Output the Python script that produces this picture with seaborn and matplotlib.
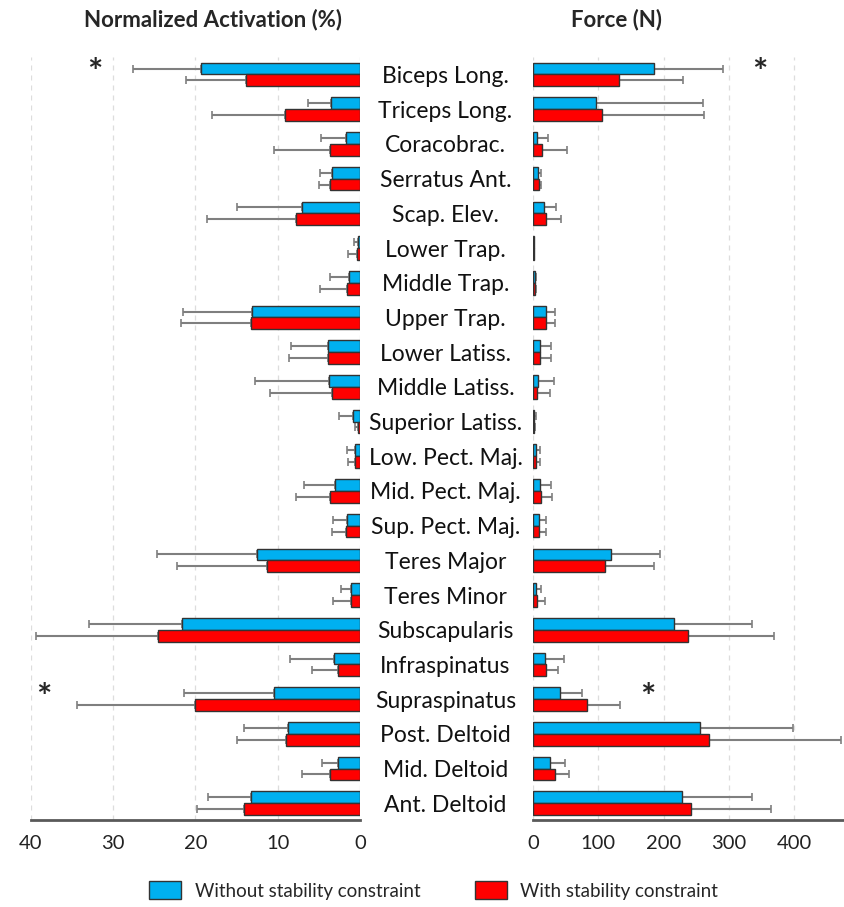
import pandas as pd
import matplotlib.pyplot as plt
import seaborn as sns

# Data
muscles = ["Biceps Long.", "Triceps Long.", "Coracobrac.", "Serratus Ant.",
           "Scap. Elev.", "Lower Trap.", "Middle Trap.", "Upper Trap.",
           "Lower Latiss.", "Middle Latiss.", "Superior Latiss.",
           "Low. Pect. Maj.", "Mid. Pect. Maj.", "Sup. Pect. Maj.",
           "Teres Major", "Teres Minor", "Subscapularis", "Infraspinatus",
           "Supraspinatus", "Post. Deltoid", "Mid. Deltoid", "Ant. Deltoid"]
conditions = ["Without stability constraint", "With stability constraint"]

act_without = [19.3, 3.5, 1.7, 3.4, 7.0, 0.3, 1.3, 13.1, 3.9, 3.8, 0.8,
               0.65, 3.0, 1.6, 12.5, 1.05, 21.6, 3.1, 10.4, 8.8, 2.7, 13.3]
act_without_sd = [8.3, 2.8, 3.0, 1.4, 8.0, 0.4, 2.4, 8.4, 4.5, 9.0, 1.8,
                  0.95, 3.8, 1.7, 12.2, 1.25, 11.4, 5.4, 11.0, 5.3, 1.9, 5.2]
act_with = [13.8, 9.1, 3.7, 3.6, 7.8, 0.4, 1.6, 13.3, 3.9, 3.4, 0.3,
            0.65, 3.6, 1.7, 11.3, 1.1, 24.5, 2.7, 20.1, 9.0, 3.7, 14.1]
act_with_sd = [7.3, 8.9, 6.8, 1.4, 10.8, 1.0, 3.3, 8.5, 4.7, 7.6, 0.3,
               0.75, 4.2, 1.7, 10.9, 2.2, 14.9, 3.15, 14.3, 6.0, 3.3, 5.7]

force_without = [185, 97, 6.6, 8.2, 17.4, 1.0, 2.5, 19.9, 10.7, 7.7, 1.5,
                 5.1, 10.7, 9.7, 119, 5.0, 216, 18.9, 40.9, 256.6, 26, 228]
force_without_sd = [106, 163, 17, 3.6, 18, 0.5, 2.5, 13.8, 17, 24, 2.5,
                    5.1, 17, 10.2, 76, 7.8, 120, 28, 33.7, 141, 23.6, 108]
force_with = [132, 106, 14.3, 8.7, 19.4, 1.0, 3.0, 19.9, 10.7, 6.6, 1.0,
              4.6, 12.3, 9.7, 111, 6.0, 238, 19.9, 82.8, 269.4, 33.7, 242.8]
force_with_sd = [98, 156, 37, 3.1, 23.5, 0.5, 2.0, 13.8, 17, 19, 1.5,
                 5.6, 16.8, 10.2, 75, 13, 131, 18, 50, 202, 21.5, 122]

# significance markers: muscle, x on activation axis, x on force axis
star_muscles = ["Biceps Long.", "Supraspinatus"]
star_act_x = [32.3, 38.4]
star_force_x = [348, 176]

df = pd.DataFrame({
    "Muscle": muscles * 2,
    "Condition": [conditions[0]] * len(muscles) + [conditions[1]] * len(muscles),
    "Activation": act_without + act_with,
    "ActSD": act_without_sd + act_with_sd,
    "Force": force_without + force_with,
    "ForceSD": force_without_sd + force_with_sd,
})

sns.set_style("white")
plt.rcParams["font.family"] = ["Lato", "DejaVu Sans"]
palette = {conditions[0]: "#00B0F0", conditions[1]: "#FF0000"}

fig = plt.figure(figsize=(8.45, 9.07), dpi=100)
ax1 = fig.add_axes([0.0367, 0.096, 0.3893, 0.841])
ax2 = fig.add_axes([0.6308, 0.096, 0.3692, 0.841])


def draw_panel(ax, col, sd_col):
    sns.barplot(data=df, y="Muscle", x=col, hue="Condition", order=muscles,
                hue_order=conditions, palette=palette, saturation=1,
                orient="h", width=0.68, edgecolor="#333333", linewidth=1.0,
                errorbar=None, ax=ax, legend=False, zorder=3)
    # one-sided error bars
    for cont, cond in zip(ax.containers, conditions):
        sd = df[df["Condition"] == cond].set_index("Muscle").loc[muscles, sd_col]
        for bar, s in zip(cont.patches, sd):
            y = bar.get_y() + bar.get_height() / 2
            ax.errorbar(bar.get_width(), y, xerr=[[0], [s]], fmt="none",
                        ecolor="#7f7f7f", elinewidth=1.5, capsize=3,
                        capthick=1.2, zorder=2)
    ax.set_ylim(len(muscles) - 0.52, -0.5)
    ax.set_xlabel("")
    ax.set_ylabel("")
    sns.despine(ax=ax, left=True, right=True, top=True)
    ax.spines["bottom"].set_color("#595959")
    ax.spines["bottom"].set_linewidth(2)
    ax.grid(axis="x", linestyle=(0, (4, 4)), color="#dddddd", linewidth=0.9, zorder=0)
    ax.set_axisbelow(True)
    ax.tick_params(axis="x", length=0, pad=11, labelsize=14.5, labelcolor="#222222")
    ax.tick_params(axis="y", length=0)


draw_panel(ax1, "Activation", "ActSD")
ax1.set_xlim(40, 0)
ax1.set_xticks([40, 30, 20, 10, 0])
ax1.set_yticklabels([])

draw_panel(ax2, "Force", "ForceSD")
ax2.set_xlim(0, 478)
ax2.set_xticks([0, 100, 200, 300, 400])
ax2.tick_params(axis="y", pad=63, labelsize=16.5, labelcolor="#111111")
for lab in ax2.get_yticklabels():
    lab.set_ha("center")

for m, xa, xf in zip(star_muscles, star_act_x, star_force_x):
    yi = muscles.index(m) - 0.02
    ax1.text(xa, yi, "*", ha="center", va="center", fontsize=26, fontweight="bold")
    ax2.text(xf, yi, "*", ha="center", va="center", fontsize=26, fontweight="bold")

fig.text(0.252, 0.979, "Normalized Activation (%)", ha="center", va="center",
         fontsize=16, fontweight="bold")
fig.text(0.730, 0.979, "Force (N)", ha="center", va="center",
         fontsize=16, fontweight="bold")

handles = [plt.Rectangle((0, 0), 1, 1, facecolor=palette[c], edgecolor="#333333")
           for c in conditions]
fig.legend(handles, conditions, loc="center", bbox_to_anchor=(0.513, 0.018),
           ncol=2, frameon=False, fontsize=13.5, handlelength=1.75,
           handleheight=1.1, columnspacing=2.9, handletextpad=0.7)

fig.savefig("out.png", dpi=100)
